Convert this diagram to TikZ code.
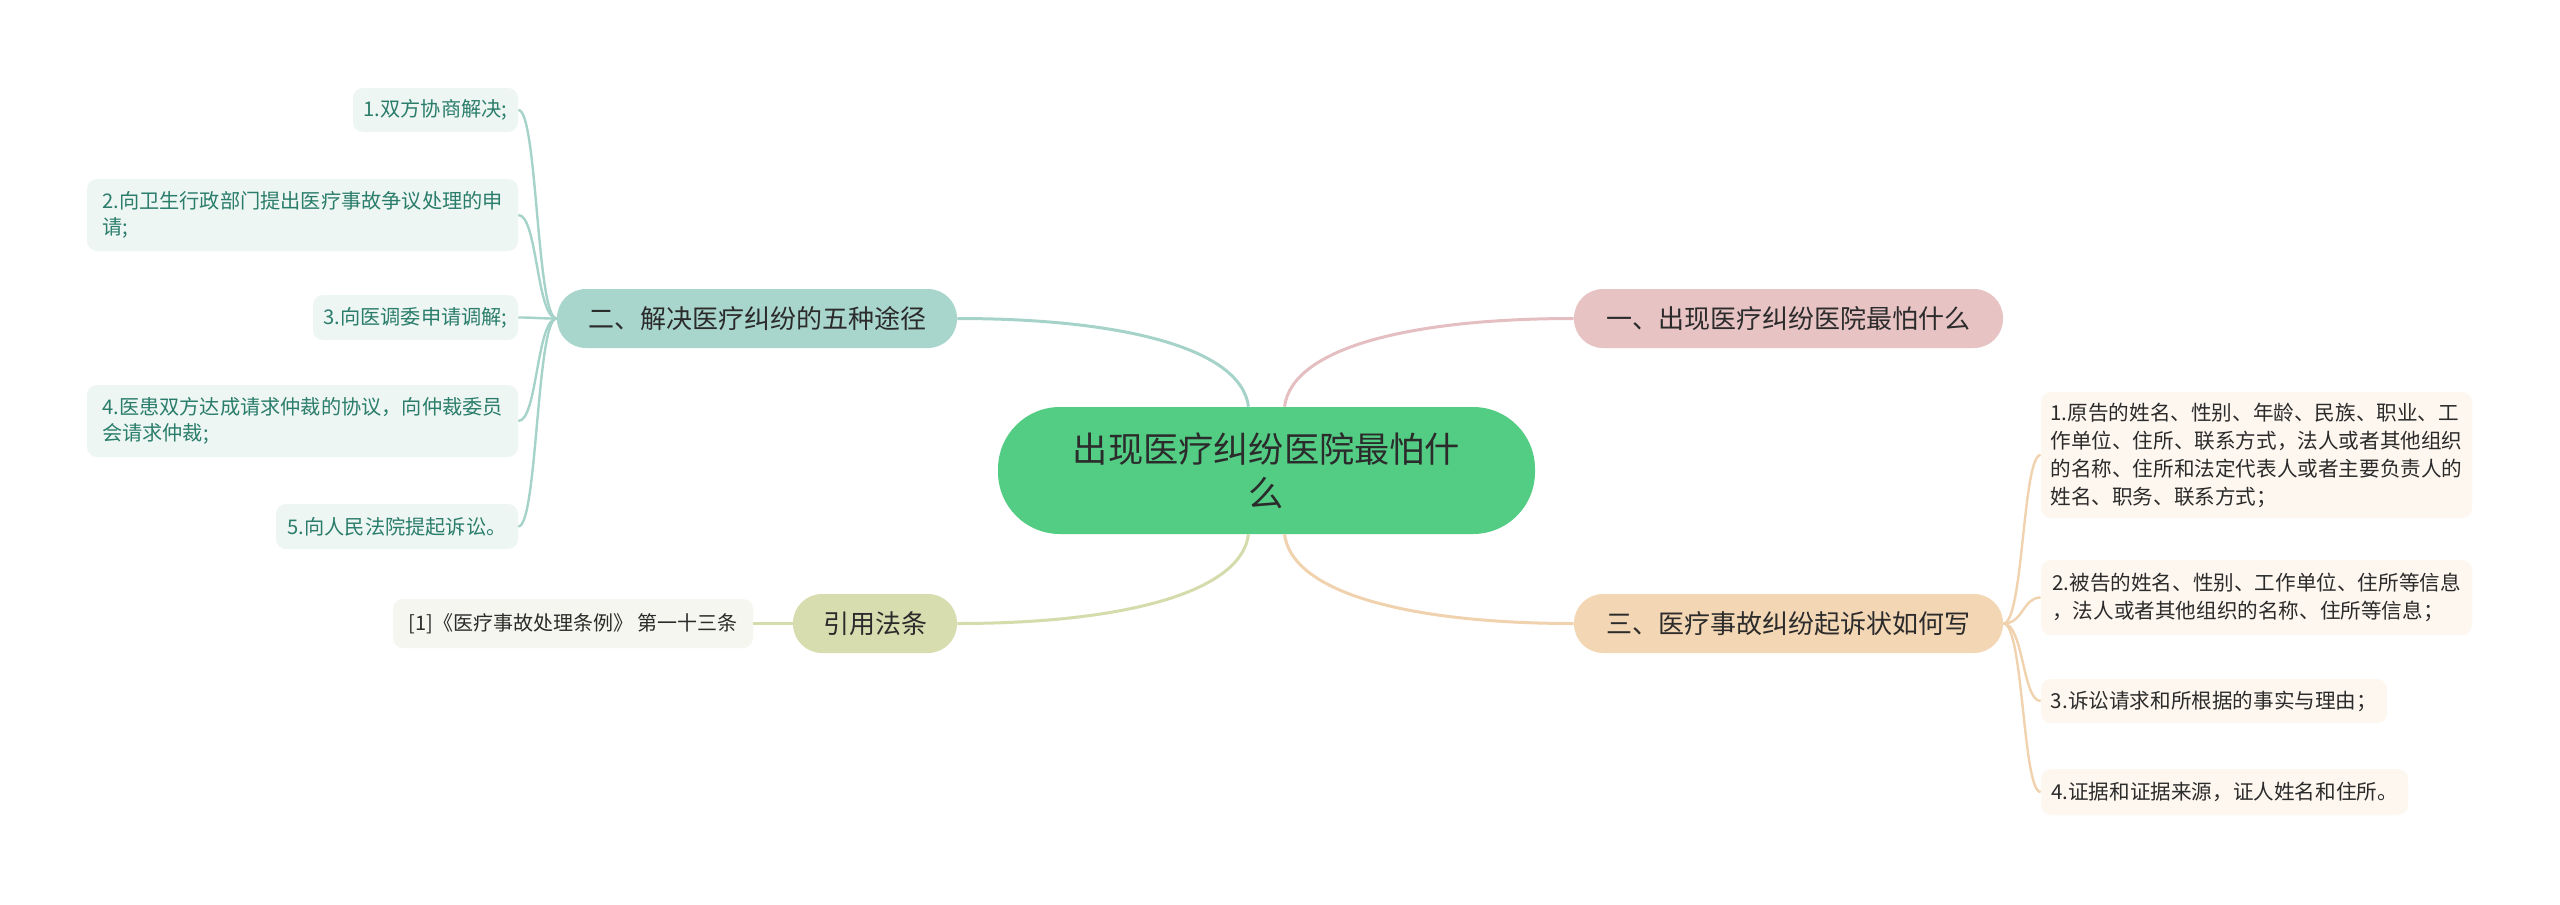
\documentclass[tikz,border=0pt]{standalone}
\usepackage{fontspec}
\newfontfamily\cjk{Noto Sans CJK SC}
\usetikzlibrary{calc}
\definecolor{cgreen}{HTML}{53CC84}
\definecolor{tealfill}{HTML}{A9D6CC}
\definecolor{tealline}{HTML}{A6D3C9}
\definecolor{pinkfill}{HTML}{E7C3C4}
\definecolor{pinkline}{HTML}{E4BEC0}
\definecolor{peachfill}{HTML}{F3D6B4}
\definecolor{peachline}{HTML}{F1D2AE}
\definecolor{olivefill}{HTML}{D8DDB0}
\definecolor{oliveline}{HTML}{D6DBAB}
\definecolor{lleaffill}{HTML}{EEF6F3}
\definecolor{lleaftext}{HTML}{2A7D6B}
\definecolor{rleaffill}{HTML}{FEF7F0}
\definecolor{citefill}{HTML}{F5F6EF}
\definecolor{darktext}{HTML}{2B2B2B}
\begin{document}
\begin{tikzpicture}[x=0.5pt,y=-0.5pt,
  centralbox/.style={fill=cgreen, rounded corners=31pt, inner sep=0pt, align=center,
    text=darktext, font=\cjk\fontsize{17.6}{22}\selectfont,
    minimum width=268.5pt, minimum height=63.5pt},
  branchbox/.style={rounded corners=14.5pt, inner sep=0pt, text=darktext,
    font=\cjk\fontsize{13}{16}\selectfont, minimum height=29.5pt},
  lleaf/.style={fill=lleaffill, rounded corners=5pt, inner sep=0pt, align=left,
    text=lleaftext, font=\cjk\fontsize{10.1}{13}\selectfont},
  rleaf/.style={fill=rleaffill, rounded corners=5pt, inner sep=0pt, align=left,
    text=darktext, font=\cjk\fontsize{10.3}{14}\selectfont},
  citebox/.style={fill=citefill, rounded corners=5pt, inner sep=0pt,
    text=darktext, font=\cjk\fontsize{10}{13}\selectfont},
  mainlink/.style={line width=1.5pt},
  leaflink/.style={line width=1.2pt}
]
\fill[white] (0,0) rectangle (2560,905);
\useasboundingbox (0,0) rectangle (2560,905);

% central
\node[centralbox] (cen) at (1266.5,470.5) {出现医疗纠纷医院最怕什\\么};

% branches
\node[branchbox, fill=tealfill, minimum width=200pt] (b2) at (757,318.5) {二、解决医疗纠纷的五种途径};
\node[branchbox, fill=pinkfill, minimum width=214.5pt] (b1) at (1788.5,318.5) {一、出现医疗纠纷医院最怕什么};
\node[branchbox, fill=peachfill, minimum width=214.5pt] (b3) at (1788.5,623.5) {三、医疗事故纠纷起诉状如何写};
\node[branchbox, fill=olivefill, minimum width=82pt] (b4) at (875,623.5) {引用法条};

% citation
\node[citebox, minimum width=180pt, minimum height=24.5pt] (cite) at (573,623.5) {[1]《医疗事故处理条例》 第一十三条};

% left leaves
\node[lleaf, minimum width=82.5pt, minimum height=22pt] (l1) at (435.5,110) {1.双方协商解决;};
\node[lleaf, minimum width=215.5pt, minimum height=36pt] (l2) at (302.5,215) {2.向卫生行政部门提出医疗事故争议处理的申\\请;};
\node[lleaf, minimum width=102.5pt, minimum height=22.5pt] (l3) at (415.5,317.5) {3.向医调委申请调解;};
\node[lleaf, minimum width=215.5pt, minimum height=36pt] (l4) at (302.5,421) {4.医患双方达成请求仲裁的协议，向仲裁委员\\会请求仲裁;};
\node[lleaf, minimum width=121pt, minimum height=22.5pt] (l5) at (397,526.5) {5.向人民法院提起诉讼。};

% right leaves
\node[rleaf, minimum width=215.5pt, minimum height=63pt] (r1) at (2256.5,455) {1.原告的姓名、性别、年龄、民族、职业、工\\作单位、住所、联系方式，法人或者其他组织\\的名称、住所和法定代表人或者主要负责人的\\姓名、职务、联系方式；};
\node[rleaf, minimum width=215.5pt, minimum height=37.5pt] (r2) at (2256.5,597.5) {2.被告的姓名、性别、工作单位、住所等信息\\，法人或者其他组织的名称、住所等信息；};
\node[rleaf, minimum width=173pt, minimum height=22pt] (r3) at (2214,701) {3.诉讼请求和所根据的事实与理由；};
\node[rleaf, minimum width=183.5pt, minimum height=23pt] (r4) at (2224.5,792) {4.证据和证据来源，证人姓名和住所。};

% central links
\draw[mainlink, tealline] ($(cen.north)+(-18,0)$) .. controls ($(cen.north)+(-26,-60)$) and ($(b2.east)+(160,0)$) .. (b2.east);
\draw[mainlink, pinkline] ($(cen.north)+(18,0)$) .. controls ($(cen.north)+(26,-60)$) and ($(b1.west)+(-160,0)$) .. (b1.west);
\draw[mainlink, oliveline] ($(cen.south)+(-18,0)$) .. controls ($(cen.south)+(-26,60)$) and ($(b4.east)+(160,0)$) .. (b4.east);
\draw[mainlink, peachline] ($(cen.south)+(18,0)$) .. controls ($(cen.south)+(26,60)$) and ($(b3.west)+(-160,0)$) .. (b3.west);

% citation link
\draw[leaflink, oliveline] (b4.west) -- (cite.east);

% left leaf links
\foreach \n in {l1,l2,l3,l4,l5}{
  \draw[leaflink, tealline] (b2.west) .. controls ($(b2.west)+(-20,0)$) and ($(\n.east)+(19,0)$) .. (\n.east);
}
% right leaf links
\foreach \n in {r1,r2,r3,r4}{
  \draw[leaflink, peachline] (b3.east) .. controls ($(b3.east)+(20,0)$) and ($(\n.west)+(-18,0)$) .. (\n.west);
}
\end{tikzpicture}
\end{document}
